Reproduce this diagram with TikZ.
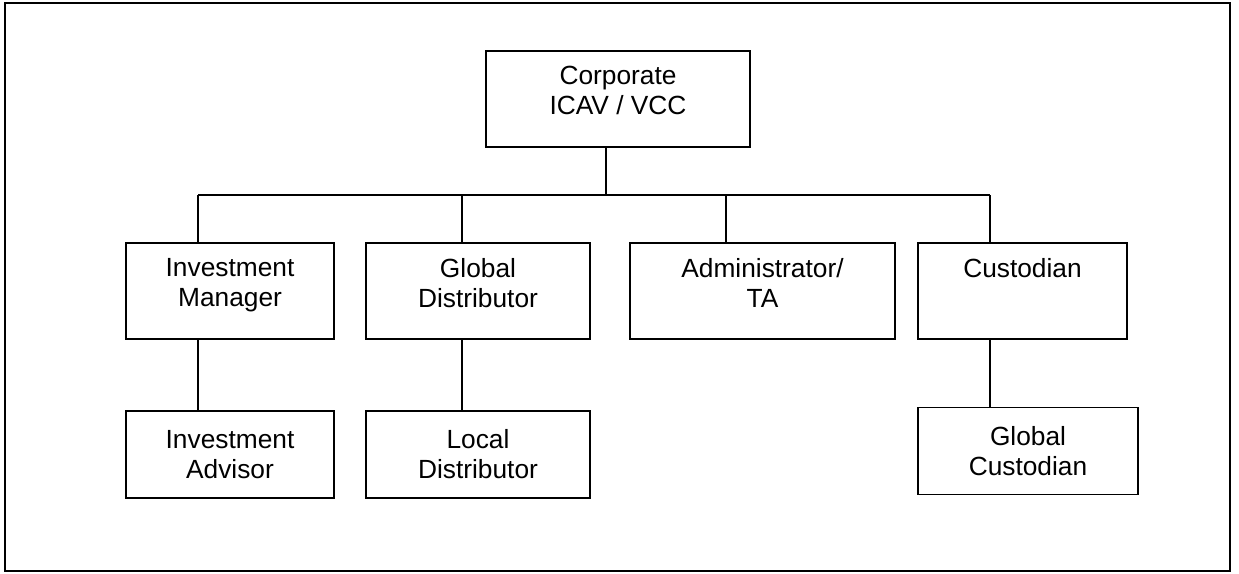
\documentclass[tikz,border=0pt]{standalone}
\usepackage{fontspec}
\setmainfont{Liberation Sans}
\usetikzlibrary{positioning}

\begin{document}
\begin{tikzpicture}[x=1pt, y=-1pt, node distance=163.5pt and 0pt, on grid,
line width=1.3pt,
box/.style ={rectangle, draw, align=center, inner sep=0pt,
font=\fontsize{26.3}{30}\selectfont},
upper/.style ={box, minimum height=96pt, text depth=17pt},
lower/.style ={box, minimum height=87pt}]
\useasboundingbox (0,0) rectangle (1239,573);
\draw[line width=2pt] (5,3) rectangle (1230,571);

\node[upper, minimum width=264pt] (corp) at (618,99) {Corporate\\ICAV / VCC};
\node[upper, minimum width=208pt] (im) at (230,291) {Investment\\Manager};
\node[upper, minimum width=224pt] (gd) at (478,291) {Global\\Distributor};
\node[upper, minimum width=265pt] (adm) at (762.5,291) {Administrator/\\TA};
\node[upper, minimum width=209pt] (cus) at (1022.5,291) {Custodian\\\strut};
\node[lower, minimum width=208pt, below=163.5pt of im] (ia) {Investment\\Advisor};
\node[lower, minimum width=224pt, below=163.5pt of gd] (ld) {Local\\Distributor};
\node[lower, minimum width=220pt, below right=160pt and 5.5pt of cus] (gc) {Global\\Custodian};

% bus taps
\coordinate (top) at (606,195);
\coordinate (tim) at (198,195);
\coordinate (tgd) at (462,195);
\coordinate (tadm) at (726,195);
\coordinate (tcus) at (990,195);

\draw (corp.south -| top) -- (top)
(tim) -- (tcus)
(tim) -- (tim |- im.north)
(tgd) -- (tgd |- gd.north)
(tadm) -- (tadm |- adm.north)
(tcus) -- (tcus |- cus.north)
(im.south -| tim) -- (ia.north -| tim)
(gd.south -| tgd) -- (ld.north -| tgd)
(cus.south -| tcus) -- (gc.north -| tcus);

\end{tikzpicture}
\end{document}
